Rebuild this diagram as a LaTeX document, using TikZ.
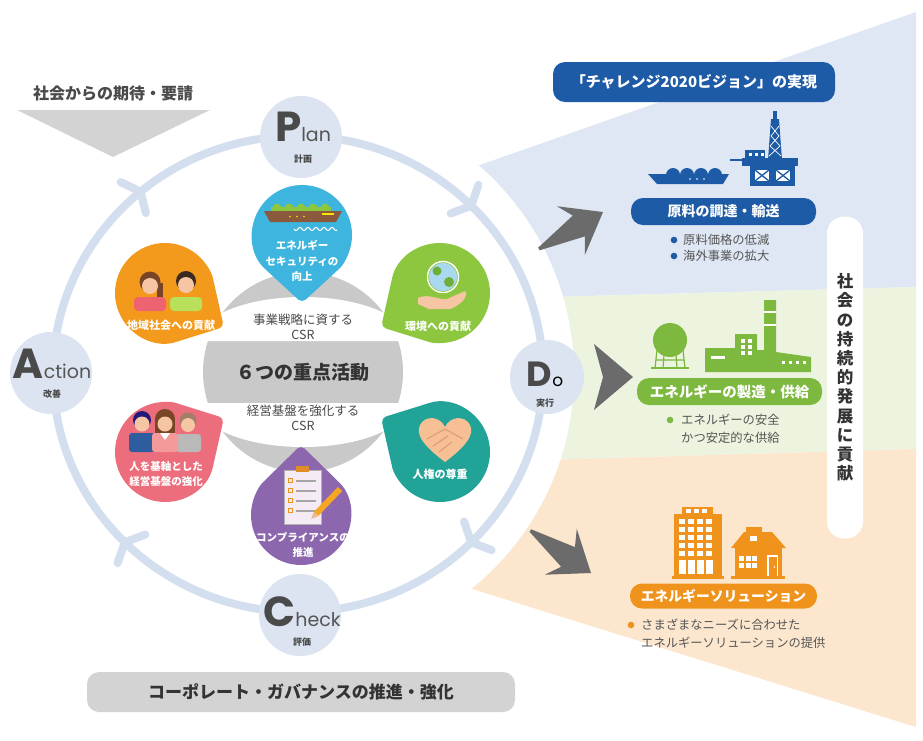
\documentclass[tikz,border=0pt]{standalone}
\usepackage{fontspec}
\setmainfont{Noto Sans CJK JP}
\newfontfamily\latinfont{Poppins}
\usetikzlibrary{calc}

\definecolor{ringblue}{HTML}{D3DEEF}
\definecolor{pdcafill}{HTML}{DCE4F1}
\definecolor{bandblue}{HTML}{DFE7F4}
\definecolor{bandgreen}{HTML}{ECF3DE}
\definecolor{bandorange}{HTML}{FCE7CE}
\definecolor{navy}{HTML}{1D5BA6}
\definecolor{leafgreen}{HTML}{7DB83F}
\definecolor{amber}{HTML}{F0931C}
\definecolor{centergray}{HTML}{C9C9C9}
\definecolor{softgray}{HTML}{D3D3D3}
\definecolor{arrowgray}{HTML}{6B6B6B}
\definecolor{ink}{HTML}{333333}
\definecolor{inkmid}{HTML}{4A4A4A}
\definecolor{letgray}{HTML}{555555}
\definecolor{petalblue}{HTML}{3DB5DE}
\definecolor{petalorange}{HTML}{F39A1C}
\definecolor{petalgreen}{HTML}{8DC63F}
\definecolor{petalpink}{HTML}{EC6E7C}
\definecolor{petalpurple}{HTML}{8C67AE}
\definecolor{petalteal}{HTML}{21A497}
\definecolor{skin}{HTML}{F6C6A4}
\definecolor{hairbrown}{HTML}{7A4526}
\definecolor{hairdark}{HTML}{3A2A22}
\definecolor{hullbrown}{HTML}{8B5A3C}
\definecolor{shipgreen}{HTML}{8CC63F}
\definecolor{globeblue}{HTML}{A9D9EF}
\definecolor{landgreen}{HTML}{6FAE3A}
\definecolor{suitblue}{HTML}{2D5D9F}
\definecolor{coral}{HTML}{F49A9A}
\definecolor{heartline}{HTML}{D69C78}
\definecolor{pencilorange}{HTML}{F5A623}

% teardrop leaf: body centre (#1,#2), radius #3, tip direction #4, tip distance #5, colour #6
\newcommand{\drawpetal}[6]{%
  \pgfmathsetmacro{\petalspread}{acos(#3/#5)}%
  \begin{scope}[shift={(#1,#2)}]
    \fill[#6, rounded corners=5pt] (#4:#5) -- ({#4+\petalspread}:#3)
      arc[start angle={#4+\petalspread}, delta angle={360-2*\petalspread}, radius=#3] -- cycle;
  \end{scope}}

% big grey arrow pointing along +x with its tip at (#1,#2), turned by #3
\newcommand{\fatarrow}[3]{%
  \fill[arrowgray, shift={(#1,#2)}, rotate=#3]
    (0,0) -- (-37,-28) -- (-28,-12) -- (-74,-1.5) -- (-74,1.5) -- (-28,12) -- (-37,28) -- cycle;}

\newcommand{\pdcaword}[2]{{\latinfont\bfseries\fontsize{42}{42}\selectfont #1}{\latinfont\mdseries\fontsize{19}{19}\selectfont\color{letgray}#2}}

\tikzset{
  ringline/.style={ringblue, line width=8pt, line cap=round, line join=round},
  pdca/.style={circle, fill=pdcafill, inner sep=0pt, minimum size=82pt},
  pdcalabel/.style={anchor=north, inner sep=0pt, align=center, text=inkmid, font=\bfseries\fontsize{9}{19.5}\selectfont},
  petaltext/.style={inner sep=0pt, text=white, align=center, font=\bfseries\fontsize{10.5}{15.5}\selectfont},
  csrtext/.style={inner sep=0pt, text=inkmid, align=center, font=\fontsize{12.5}{15}\selectfont},
  banner/.style={inner sep=0pt, text=white, rounded corners=12pt, font=\bfseries\fontsize{14}{14}\selectfont},
  bullettext/.style={inner sep=0pt, anchor=west, text=letgray, font=\fontsize{12.3}{12.3}\selectfont},
}

\begin{document}
\begin{tikzpicture}[x=1pt,y=-1pt]
\fill[white] (0,0) rectangle (923,740);
\useasboundingbox (0,0) rectangle (923,740);

% ---- coloured fan behind the Do side ----
\fill[bandblue] (440,179) -- (916,12) -- (916,287) -- (440,300) -- cycle;
\fill[bandgreen] (440,300) -- (916,287) -- (916,449) -- (440,463) -- cycle;
\fill[bandorange] (440,463) -- (916,449) -- (916,727) -- (440,579) -- cycle;
\fill[white] (298,374) circle (276);

% ---- PDCA ring with direction marks ----
\draw[ringline] (298,374) ellipse [x radius=245, y radius=238];
\coordinate (m1) at (140.5,191.7);
\coordinate (m1a) at (120.7,182.1);
\coordinate (m1b) at (145.9,213.0);
\coordinate (m2) at (471.2,205.7);
\coordinate (m2a) at (478.4,184.9);
\coordinate (m2b) at (450.7,213.5);
\coordinate (m3) at (471.2,542.3);
\coordinate (m3a) at (491.7,550.1);
\coordinate (m3b) at (464.0,521.5);
\coordinate (m4) at (124.8,542.3);
\coordinate (m4a) at (117.6,563.1);
\coordinate (m4b) at (145.3,534.5);
\foreach \m in {m1,m2,m3,m4} \draw[ringline] (\m a) -- (\m) -- (\m b);

% ---- society's expectations ----
\node[inner sep=0pt, text=inkmid, font=\bfseries\fontsize{16}{16}\selectfont] (expect) at (113,93) {社会からの期待・要請};
\fill[softgray] (17,110) -- (210,110) -- (113,157) -- cycle;

% ---- PDCA nodes ----
\node[pdca] (plan) at (301,137) {};
\node[pdcalabel, font=\bfseries\fontsize{9}{21}\selectfont] (planlabel) at (303,112) {\pdcaword{P}{lan}\\計画};

\node[pdca] (action) at (51,373) {};
\node[pdcalabel] (actionlabel) at (52,348.5) {\pdcaword{A}{ction}\\改善};

\node[pdca] (check) at (300,615) {};
\node[pdcalabel] (checklabel) at (302,596) {\pdcaword{C}{heck}\\評価};

\node[pdca, minimum size=74pt] (do) at (547,377) {};
\node[pdcalabel, font=\bfseries\fontsize{9}{19.5}\selectfont] (dolabel) at (545,362) {{\latinfont\bfseries\fontsize{35}{35}\selectfont D}{\latinfont\mdseries\fontsize{17}{17}\selectfont\color{black}o}\\実行};

% ---- six priority activities ----
\fill[centergray] (303,372) circle (100);
\fill[white] (198,341) arc[start angle=180, end angle=360, x radius=105, y radius=44] -- cycle;
\fill[white] (198,403) arc[start angle=180, end angle=0, x radius=105, y radius=44] -- cycle;
\node[inner sep=0pt, text=ink, font=\bfseries\fontsize{19}{19}\selectfont] (core) at (303,372) {６つの重点活動};
\node[csrtext] (csrup) at (303,327) {事業戦略に資する\\CSR};
\node[csrtext] (csrdown) at (303,418) {経営基盤を強化する\\CSR};

\drawpetal{302}{235}{50}{90}{68}{petalblue}
\drawpetal{301}{515}{50}{270}{70}{petalpurple}
\drawpetal{165}{293}{50}{30}{68}{petalorange}
\drawpetal{440}{293}{50}{150}{68}{petalgreen}
\drawpetal{165}{452}{50}{330}{68}{petalpink}
\drawpetal{440}{452}{50}{210}{68}{petalteal}

% tanker on the energy-security leaf
\fill[shipgreen] (271,207) rectangle (331,211);
\foreach \bx in {277,289,301,313,325} \fill[shipgreen] (\bx,208) circle (4.5);
\fill[hullbrown] (264,211) -- (342,211) -- (336,222) -- (270,222) -- cycle;
\fill[yellow!85!orange] (322,213) rectangle (334,215);
\foreach \bx in {290,297,304} \fill[yellow!85!orange] (\bx,216.5) circle (0.9);
\draw[white, line width=1.1] plot[domain=294:337, samples=60] (\x,{229+1.5*sin(45*(\x-294))});
\node[petaltext] (security) at (302,261) {エネルギー\\セキュリティの\\向上};

% two residents on the community leaf
\fill[hairbrown] (150,282) circle (10.5);
\fill[hairbrown] (157,283) rectangle (163,298);
\fill[skin] (150,286) circle (8);
\fill[petalpink!90!red, rounded corners=4pt] (134,297) rectangle (166,311);
\fill[hairdark] (186,281) circle (10);
\fill[skin] (186,285) circle (8);
\fill[yellow!60!green!70!white, rounded corners=4pt] (170,297) rectangle (202,311);
\node[petaltext, font=\bfseries\fontsize{11}{11}\selectfont] (community) at (171,325) {地域社会への貢献};

% globe held in a hand on the environment leaf
\fill[globeblue] (443,277) circle (14);
\fill[landgreen] (437,271) circle (4.5);
\fill[landgreen] (449,282) circle (5);
\draw[white, line width=1.4] (443,277) circle (15.5);
\fill[skin] (418,298) .. controls (428,293) and (438,300) .. (447,299) -- (465,291) .. controls (469,296) and (461,305) .. (450,309) -- (429,309) -- (418,304) -- cycle;
\node[petaltext, font=\bfseries\fontsize{11}{11}\selectfont] (environment) at (438,326) {環境への貢献};

% three staff members on the people leaf
\fill[hairbrown!70!white] (188,421) circle (8.5);
\fill[skin] (188,425) circle (7);
\fill[gray!55, rounded corners=3pt] (176,434) rectangle (201,452);
\fill[hairdark!60!blue] (142,420) circle (9);
\fill[skin] (142,424) circle (7.5);
\fill[suitblue, rounded corners=3pt] (129,433) rectangle (155,452);
\fill[hairbrown] (165,419) circle (10);
\fill[hairbrown] (155,419) rectangle (175,433);
\fill[skin] (165,424) circle (7.5);
\fill[coral, rounded corners=3pt] (152,433) rectangle (178,452);
\fill[white] (160,433) -- (165,440) -- (170,433) -- cycle;
\node[petaltext] (people) at (166,474) {人を基軸とした\\経営基盤の強化};

% checklist and pencil on the compliance leaf
\fill[white!92!violet] (284,470) rectangle (321,524);
\draw[gray!60, line width=0.6] (284,470) rectangle (321,524);
\fill[amber!70!brown] (296,466) rectangle (309,472);
\foreach \ly in {481,491,501,511} {
  \draw[gray!70, line width=1.4] (296,\ly) -- (316,\ly);
  \draw[amber, line width=0.9] (288,{\ly-2.5}) rectangle (292,{\ly+1.5});
}
\draw[pencilorange, line width=6pt] (340,489) -- (316,514);
\fill[skin!80!brown] (318.2,516.1) -- (313.8,511.9) -- (311.2,519) -- cycle;
\node[petaltext] (compliance) at (303,545) {コンプライアンスの\\推進};

% heart-shaped handshake on the human-rights leaf
\fill[skin!90!orange] (445,462) .. controls (425,447) and (415,435) .. (420,425) .. controls (425,415) and (440,416) .. (445,427) .. controls (450,416) and (465,415) .. (470,425) .. controls (475,435) and (465,447) .. (445,462) -- cycle;
\draw[heartline, line width=1] (427,439) -- (445,429) -- (463,439);
\draw[heartline, line width=1] (433,446) -- (448,436);
\draw[heartline, line width=1] (439,452) -- (452,442);
\node[petaltext, font=\bfseries\fontsize{11}{11}\selectfont] (rights) at (440,474) {人権の尊重};

% ---- arrows from Do ----
\fatarrow{603}{212}{30}
\fill[arrowgray] (633,377) -- (594,344) -- (603,377) -- (594,410) -- cycle;
\fatarrow{591}{573}{-35}

% ---- vision and business areas ----
\node[banner, fill=navy, minimum width=282pt, minimum height=40pt, font=\bfseries\fontsize{15}{15}\selectfont] (vision) at (694,82) {「チャレンジ2020ビジョン」の実現};

% LNG carrier and offshore rig
\fill[navy] (648,174) -- (729,174) -- (723,184) -- (657,184) -- cycle;
\foreach \dx in {673,687,701,715} \fill[navy] (\dx,175) circle (7);
\foreach \dx in {690,697,704} \fill[white] (\dx,179) circle (0.9);
\fill[navy] (768,160) -- (771,119) -- (779,119) -- (782,160) -- cycle;
\fill[navy] (773,111) rectangle (777,119);
\draw[white, line width=0.7] (771,126) -- (779,136) -- (770,146) -- (781,156);
\draw[white, line width=0.7] (779,126) -- (771,136) -- (780,146) -- (769,156);
\fill[navy] (742,158) rectangle (798,166);
\draw[navy, line width=2] (730,160) -- (742,160);
\fill[navy] (745,150) rectangle (765,158);
\foreach \wx in {749,755,761} \fill[white] (\wx,153) rectangle ({\wx+3},155.5);
\fill[navy] (750,166) rectangle (795,186);
\fill[white] (755,170) rectangle (769,181);
\fill[white] (776,170) rectangle (790,181);
\draw[navy, line width=1.3] (755,170) -- (769,181) (769,170) -- (755,181) (776,170) -- (790,181) (790,170) -- (776,181);

\node[banner, fill=navy, minimum width=185pt, minimum height=27pt] (supply) at (723.5,211.5) {原料の調達・輸送};
\fill[navy] (674,240) circle (3.3);
\fill[navy] (674,256) circle (3.3);
\node[bullettext] (supply1) at (683,240) {原料価格の低減};
\node[bullettext] (supply2) at (683,256) {海外事業の拡大};

% gas holder and plant
\fill[leafgreen] (670,340) circle (17);
\draw[leafgreen, line width=1.2] (657,350) -- (655,368) (683,350) -- (685,368) (664,355) -- (663,368) (676,355) -- (677,368) (656,360) -- (684,360);
\draw[leafgreen, line width=1.2] (651,368) -- (689,368);
\fill[leafgreen] (705,372) -- (705,348) -- (735,348) -- (735,334) -- (757,334) -- (757,350) -- (764,350) -- (764,300) -- (776,300) -- (776,352) -- (811,357) -- (811,372) -- cycle;
\fill[white] (711,356) rectangle (725,359);
\foreach \wx in {741,748} \foreach \wy in {339,345,351} \fill[white] (\wx,\wy) rectangle ({\wx+4},{\wy+3.5});
\foreach \wx in {782,789,796,803} \fill[white] (\wx,361) rectangle ({\wx+3},364);
\fill[white] (764,311) rectangle (776,312.5);
\fill[white] (764,324) rectangle (776,325.5);

\node[banner, fill=leafgreen, minimum width=185pt, minimum height=27pt, font=\bfseries\fontsize{14.5}{14.5}\selectfont] (production) at (729.5,391.5) {エネルギーの製造・供給};
\fill[leafgreen] (670,420) circle (3.3);
\node[bullettext] (production1) at (681,420) {エネルギーの安全};
\node[bullettext] (production2) at (681,438) {かつ安定的な供給};

% office tower and house
\fill[amber] (682,507) rectangle (713,516);
\fill[amber] (674,514) rectangle (722,578);
\foreach \wx in {686,694,702} \fill[white] (\wx,509) rectangle ({\wx+5},513);
\foreach \wx in {679,688,697,706} \foreach \wy in {519,527,535,543,551} \fill[white] (\wx,\wy) rectangle ({\wx+6},{\wy+5});
\foreach \wx in {679,688,697,706} \fill[white] (\wx,560) rectangle ({\wx+7},574);
\fill[amber] (672,576) rectangle (724,579);
\fill[amber] (735,546) rectangle (782,578);
\fill[amber] (731,548) -- (744,532) -- (772,532) -- (786,548) -- cycle;
\fill[amber] (746,527) rectangle (762,534);
\fill[white] (750,536) rectangle (757,541);
\foreach \wx in {739,745.5,752} \foreach \wy in {556,562.5} \fill[white] (\wx,\wy) rectangle ({\wx+5},{\wy+5});
\fill[white] (767,555) rectangle (778,577);
\fill[amber] (768.5,557) rectangle (776.5,577);
\fill[white] (774.5,567) circle (0.9);
\fill[amber] (731,576) rectangle (785,579);

\node[banner, fill=amber, minimum width=187pt, minimum height=25pt, font=\bfseries\fontsize{13.8}{13.8}\selectfont] (solution) at (723.5,596) {エネルギーソリューション};
\fill[amber] (631,625) circle (3.3);
\node[bullettext] (solution1) at (641,625) {さまざまなニーズに合わせた};
\node[bullettext] (solution2) at (641,643) {エネルギーソリューションの提供};

% ---- contribution to society ----
\node[fill=white, rounded corners=17pt, minimum width=36pt, minimum height=322pt, inner sep=0pt, text=ink, align=center, font=\bfseries\fontsize{16.5}{19.2}\selectfont] (contrib) at (845,377.5) {社\\会\\の\\持\\続\\的\\発\\展\\に\\貢\\献};

% ---- corporate governance ----
\node[fill=softgray, rounded corners=12pt, minimum width=428pt, minimum height=40pt, inner sep=0pt, text=ink, font=\bfseries\fontsize{17}{17}\selectfont] (governance) at (301,692) {コーポレート・ガバナンスの推進・強化};

\end{tikzpicture}
\end{document}
